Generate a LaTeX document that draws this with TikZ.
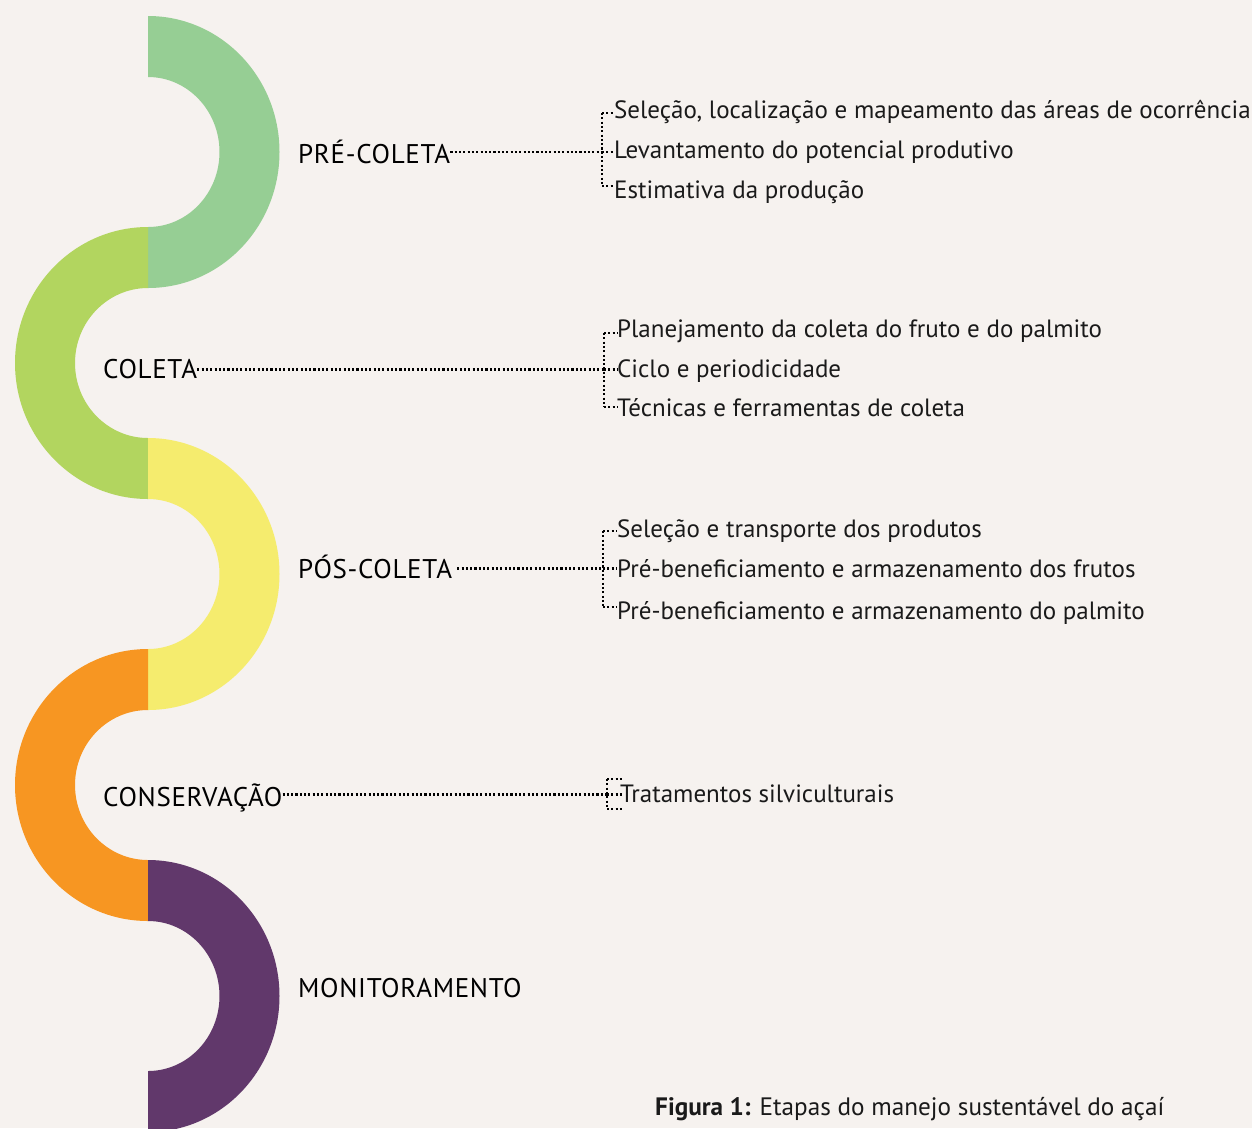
\documentclass[tikz,border=0pt]{standalone}
\usepackage{fontspec}
\setmainfont{PT Sans}
\newfontfamily\lblfont[LetterSpace=2.5]{PT Sans}
\definecolor{bg}{HTML}{F6F2EF}
\definecolor{cA}{HTML}{96CE94}
\definecolor{cB}{HTML}{B2D55F}
\definecolor{cC}{HTML}{F5EC6E}
\definecolor{cD}{HTML}{F79622}
\definecolor{cE}{HTML}{61386B}
\definecolor{txt}{HTML}{1A1A1A}
\newcommand\ringRight[2]{\fill[#1] (148,-#2+136) arc[start angle=90,end angle=-90,x radius=131.5,y radius=136] -- (148,-#2-75) arc[start angle=-90,end angle=90,x radius=71.5,y radius=75] -- cycle;}
\newcommand\ringLeft[2]{\fill[#1] (148,-#2+136) arc[start angle=90,end angle=270,x radius=133,y radius=136] -- (148,-#2-75) arc[start angle=270,end angle=90,x radius=73,y radius=75] -- cycle;}
\begin{document}
\begin{tikzpicture}[x=1pt,y=1pt,
  lbl/.style={anchor=base west, inner sep=0pt, font=\lblfont\fontsize{27}{32}\selectfont, text=black},
  itm/.style={anchor=base west, inner sep=0pt, font=\fontsize{25}{30}\selectfont, text=txt},
  dotl/.style={line width=2.1pt, dash pattern=on 2.1pt off 2.2pt, black}]
\useasboundingbox (0,0) rectangle (1252,-1128);
\fill[bg] (0,0) rectangle (1252,-1128);
\begin{scope}
\clip (0,0) rectangle (1252,-1128);
\ringRight{cA}{152}
\ringLeft{cB}{363}
\ringRight{cC}{574}
\ringLeft{cD}{785}
\ringRight{cE}{996}
\end{scope}
% labels
\node[lbl] (pre) at (298,-163) {PRÉ-COLETA};
\node[lbl] (col) at (103,-378) {COLETA};
\node[lbl] (pos) at (298,-578) {PÓS-COLETA};
\node[lbl] (con) at (103,-806) {CONSERVAÇÃO};
\node[lbl] (mon) at (298,-997) {MONITORAMENTO};
% items
\node[itm] (p1) at (614,-118) {Seleção, localização e mapeamento das áreas de ocorrência};
\node[itm] (p2) at (614,-158) {Levantamento do potencial produtivo};
\node[itm] (p3) at (614,-198) {Estimativa da produção};
\node[itm] (c1) at (617,-337) {Planejamento da coleta do fruto e do palmito};
\node[itm] (c2) at (617,-377) {Ciclo e periodicidade};
\node[itm] (c3) at (617,-416) {Técnicas e ferramentas de coleta};
\node[itm] (s1) at (617,-537) {Seleção e transporte dos produtos};
\node[itm] (s2) at (617,-577) {Pré-beneficiamento e armazenamento dos frutos};
\node[itm] (s3) at (617,-619) {Pré-beneficiamento e armazenamento do palmito};
\node[itm] (k1) at (620,-802) {Tratamentos silviculturais};
% bracket coordinates
\coordinate (pT) at (602,-113); \coordinate (pM) at (602,-152); \coordinate (pB) at (602,-186);
\coordinate (cT) at (604,-333); \coordinate (cM) at (604,-369.5); \coordinate (cB) at (604,-407);
\coordinate (sT) at (603,-531); \coordinate (sM) at (603,-568.5); \coordinate (sB) at (603,-607);
\coordinate (kT) at (607,-779); \coordinate (kM) at (607,-794.5); \coordinate (kB) at (607,-809);
% connectors
\draw[dotl] (pre.east |- pM) -- (pM);
\draw[dotl] (pT) -- (pB);
\draw[dotl] (pT) -- (p1.west |- pT);
\draw[dotl] (pM) -- (p2.west |- pM);
\draw[dotl] (pB) -- (p3.west |- pB);
\draw[dotl] (col.east |- cM) -- (cM);
\draw[dotl] (cT) -- (cB);
\draw[dotl] (cT) -- (c1.west |- cT);
\draw[dotl] (cM) -- (c2.west |- cM);
\draw[dotl] (cB) -- (c3.west |- cB);
\draw[dotl] ([xshift=5pt]pos.east |- sM) -- (sM);
\draw[dotl] (sT) -- (sB);
\draw[dotl] (sT) -- (s1.west |- sT);
\draw[dotl] (sM) -- (s2.west |- sM);
\draw[dotl] (sB) -- (s3.west |- sB);
\draw[dotl] (con.east |- kM) -- (kM);
\draw[dotl] (kT) -- (kB);
\draw[dotl] (kT) -- ([xshift=4pt]k1.west |- kT);
\draw[dotl] (kM) -- ([xshift=4pt]k1.west |- kM);
\draw[dotl] (kB) -- ([xshift=4pt]k1.west |- kB);
% caption
\node[anchor=base west, inner sep=0pt, font=\fontsize{25.2}{30}\selectfont, text=txt] (cap) at (655,-1115) {\textbf{Figura 1:} Etapas do manejo sustentável do açaí};
\end{tikzpicture}
\end{document}
